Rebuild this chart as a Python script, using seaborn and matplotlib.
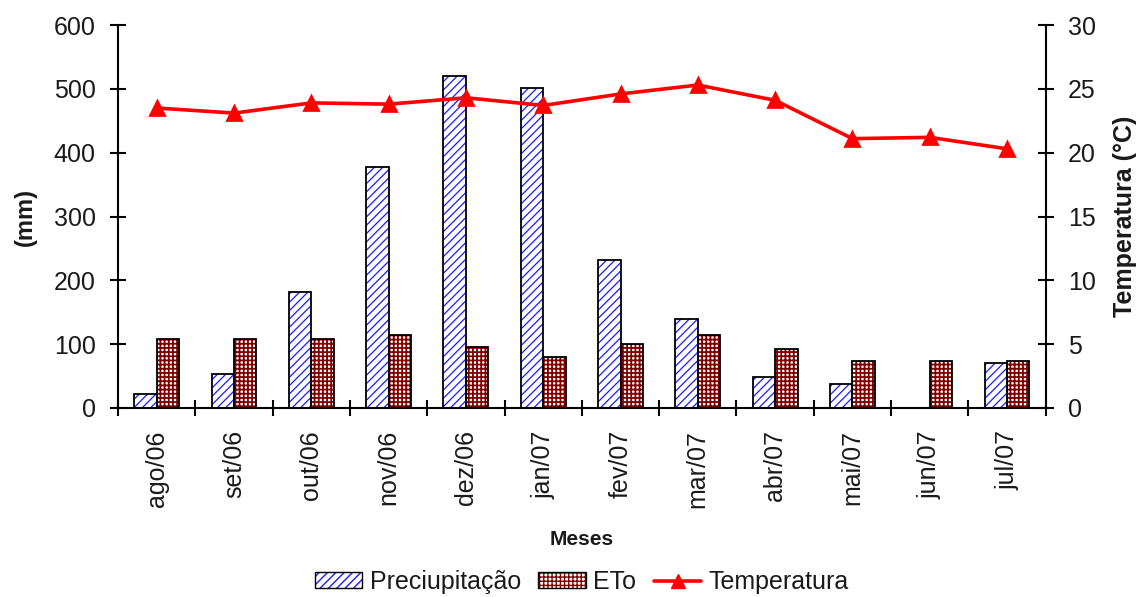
import numpy as np
import pandas as pd
import matplotlib
matplotlib.use("Agg")
import matplotlib.pyplot as plt
import seaborn as sns
from matplotlib.patches import Patch
from matplotlib.lines import Line2D

# Monthly climate data, Aug/2006 - Jul/2007
months = ["ago/06", "set/06", "out/06", "nov/06", "dez/06", "jan/07",
          "fev/07", "mar/07", "abr/07", "mai/07", "jun/07", "jul/07"]
precipitacao = [22, 54, 181, 378, 520, 501, 232, 140, 48, 38, 0, 70]      # mm
eto = [108, 108, 108, 114, 95, 80, 101, 114, 92, 73, 73, 73]              # mm
temperatura = [23.5, 23.1, 23.9, 23.8, 24.3, 23.7, 24.6, 25.3, 24.1,
               21.1, 21.2, 20.3]                                          # °C
series_names = ["Preciupitação", "ETo"]

sns.set_theme(style="white")
plt.rcParams["font.family"] = ["Liberation Sans", "DejaVu Sans"]
plt.rcParams["hatch.linewidth"] = 1.0

df = pd.DataFrame({
    "Mês": months * 2,
    "Série": [series_names[0]] * len(months) + [series_names[1]] * len(months),
    "mm": precipitacao + eto,
})

BLUE = "#1a1aff"
DARKRED = "#800000"
TXT = "#1a1a1a"
ETO_HATCH = "++++"

fig = plt.figure(figsize=(11.41, 5.97), dpi=100)
ax = fig.add_axes([0.1034, 0.3166, 0.8131, 0.6415])

# Hatched fill layer
sns.barplot(data=df, x="Mês", y="mm", hue="Série", order=months,
            hue_order=series_names, palette=["white", "white"], width=0.58,
            saturation=1, linewidth=0, errorbar=None, legend=False, ax=ax)
styles = [("////", BLUE, 0.9), (ETO_HATCH, DARKRED, 1.3)]
for cont, (hatch, hc, hlw) in zip(ax.containers, styles):
    for p in cont:
        p.set_facecolor("white")
        p.set_hatch(hatch)
        p.set_edgecolor(hc)
        p.set_linewidth(0)
        if hasattr(p, "set_hatch_linewidth"):
            p.set_hatch_linewidth(hlw)

# Black outline layer
n_before = len(ax.containers)
sns.barplot(data=df, x="Mês", y="mm", hue="Série", order=months,
            hue_order=series_names, palette=["white", "white"], width=0.58,
            saturation=1, errorbar=None, legend=False, ax=ax)
for cont in ax.containers[n_before:]:
    for p in cont:
        p.set_facecolor("none")
        p.set_edgecolor("black")
        p.set_linewidth(1.3)

# Temperature on the secondary axis
ax2 = ax.twinx()
sns.pointplot(x=months, y=temperatura, order=months, color="red",
              markers="^", markersize=10, linewidth=2.6, errorbar=None, ax=ax2)

ax.set_xlim(-0.5, len(months) - 0.5)
ax.set_ylim(0, 600)
ax.set_yticks(np.arange(0, 601, 100))
ax2.set_ylim(0, 30)
ax2.set_yticks(np.arange(0, 31, 5))

ax.set_xticks(range(len(months)))
ax.set_xticklabels(months, rotation=90, fontsize=18, color=TXT)
ax.set_xticks(np.arange(-0.5, len(months), 1), minor=True)
ax.tick_params(axis="x", which="major", length=0, pad=16)
ax.tick_params(axis="x", which="minor", direction="inout", length=12,
               width=1.5, color="black", bottom=True)
ax.tick_params(axis="y", direction="inout", length=12, width=1.5,
               color="black", labelsize=18, labelcolor=TXT, pad=10, left=True)
ax2.tick_params(axis="y", direction="inout", length=12, width=1.5,
                color="black", labelsize=18, labelcolor=TXT, pad=10, right=True)

for a in (ax, ax2):
    for s in a.spines.values():
        s.set_visible(False)
        s.set_color("black")
        s.set_linewidth(1.5)
ax.spines["left"].set_visible(True)
ax.spines["bottom"].set_visible(True)
ax2.spines["right"].set_visible(True)

ax.set_xlabel("Meses", fontsize=15, fontweight="bold", color=TXT)
ax.xaxis.set_label_coords(0.5, -0.318)
ax.set_ylabel("(mm)", fontsize=17, fontweight="bold", color=TXT)
ax.yaxis.set_label_coords(-0.087, 0.5)
ax2.set_ylabel("Temperatura (°C)", fontsize=18, fontweight="bold", color=TXT)
ax2.yaxis.set_label_coords(1.072, 0.5)

handles = [
    (Patch(facecolor="white", edgecolor=BLUE, hatch="////", linewidth=0),
     Patch(facecolor="none", edgecolor="black", linewidth=1.0)),
    (Patch(facecolor="white", edgecolor=DARKRED, hatch=ETO_HATCH, linewidth=0),
     Patch(facecolor="none", edgecolor="black", linewidth=1.0)),
    Line2D([], [], color="red", linewidth=2.6, marker="^", markersize=10),
]
fig.legend(handles, [series_names[0], series_names[1], "Temperatura"],
           loc="center", bbox_to_anchor=(0.51, 1 - 582 / 597), ncol=3,
           frameon=False, fontsize=18, handlelength=1.9, handleheight=0.6,
           handletextpad=0.3, columnspacing=0.7, labelcolor=TXT)

fig.savefig("out.png", dpi=100, facecolor="white")
